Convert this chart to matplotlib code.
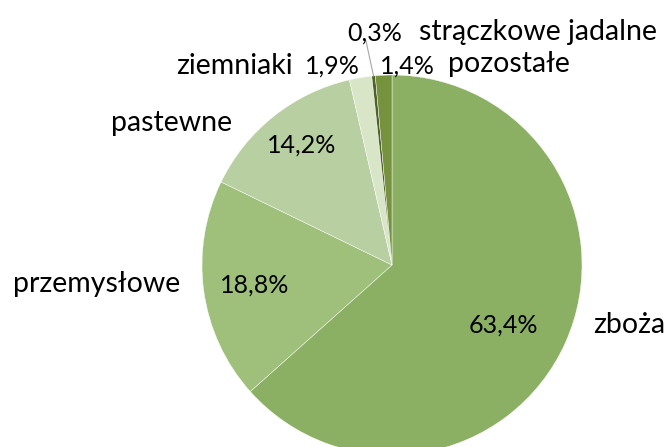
import numpy as np
import matplotlib.pyplot as plt

plt.rcParams['font.family'] = ['Lato', 'DejaVu Sans']

categories = ["zboża", "przemysłowe", "pastewne", "ziemniaki",
              "strączkowe jadalne", "pozostałe"]
shares = [63.4, 18.8, 14.2, 1.9, 0.3, 1.4]
pct_labels = ["63,4%", "18,8%", "14,2%", "1,9%", "0,3%", "1,4%"]
colors = ["#8bb063", "#9ec07a", "#b7cfa1", "#d8e6c7", "#4f6228", "#76923f"]

# label placement in pixel coords (x from left, y from top)
name_pos = [(629, 325), (97, 284), (172, 123), (234, 66), (538, 32), (509, 64)]
pct_pos = [(503, 325), (255, 285), (302, 145), (332, 66), (375, 33), (407, 66)]

W, H = 668, 447
cx, cy, r = 392, 265, 190

fig = plt.figure(figsize=(W / 100, H / 100), dpi=100)
ax = fig.add_axes([0, 0, 1, 1])

wedges, texts = ax.pie(
    shares,
    colors=colors,
    startangle=90,
    counterclock=False,
    center=(cx, H - cy),
    radius=r,
    wedgeprops=dict(edgecolor="white", linewidth=0.3),
    frame=True,
)
ax.set_xlim(0, W)
ax.set_ylim(0, H)
ax.set_aspect("equal")
ax.axis("off")

for name, (nx, ny), pct, (px, py) in zip(categories, name_pos, pct_labels, pct_pos):
    ax.text(nx, H - ny, name, ha="center", va="center", fontsize=20.5, color="black")
    ax.text(px, H - py, pct, ha="center", va="center", fontsize=18, color="black")

# leader line for the thin slice
w = wedges[4]
ang = np.deg2rad((w.theta1 + w.theta2) / 2)
ex = cx + r * np.cos(ang)
ey = H - cy + r * np.sin(ang)
ax.plot([ex, pct_pos[4][0] - 9], [ey, H - pct_pos[4][1] - 8], color="#a6a6a6", lw=0.8)

fig.savefig("out.png", dpi=100)
